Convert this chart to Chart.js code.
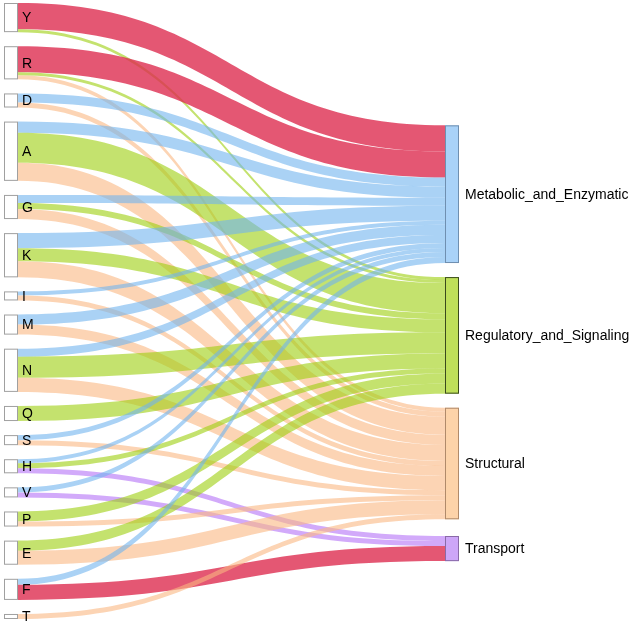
<!DOCTYPE html>
<html>
<head>
<meta charset="utf-8">
<script src="https://cdn.jsdelivr.net/npm/chart.js@4.4.1/dist/chart.umd.min.js"></script>
<style>
  html, body { margin: 0; padding: 0; background: #fff; }
  #wrap { width: 633px; height: 626px; }
</style>
</head>
<body>
<div id="wrap"><canvas id="sankey"></canvas></div>
<script>
// Left column (amino acids), top to bottom
const sources = ['Y', 'R', 'D', 'A', 'G', 'K', 'I', 'M', 'N', 'Q', 'S', 'H', 'V', 'P', 'E', 'F', 'T'];
// Right column (functional classes), top to bottom
const targets = ['Metabolic_and_Enzymatic', 'Regulatory_and_Signaling', 'Structural', 'Transport'];

// Flow from each source into each target (same order as `sources`)
const toMetabolic  = [26, 26, 9, 11, 8, 15, 4, 10, 8, 0, 5, 4, 5, 0, 0, 6, 0];
const toRegulatory = [3, 3, 0, 30, 6, 13, 0, 0, 21, 15, 0, 5, 0, 10, 10, 0, 0];
const toStructural = [0, 4, 5, 18, 10, 16, 5, 10, 14, 0, 5, 0, 0, 5, 14, 0, 5];
const toTransport  = [0, 0, 0, 0, 0, 0, 0, 0, 0, 0, 0, 5, 5, 0, 0, 15, 0];

// links drawn in the highlight colour
const highlighted = ['Y>Metabolic_and_Enzymatic', 'R>Metabolic_and_Enzymatic', 'F>Transport'];

const NODE_GAP = 14;   // vertical gap between nodes, in flow units
const NODE_W = 14;     // node width in px

const linkColors = ['rgba(113,180,238,0.6)', 'rgba(157,207,13,0.6)', 'rgba(250,183,130,0.6)', 'rgba(180,113,247,0.6)'];
const highlightColor = 'rgba(221,45,80,0.8)';
const targetFill = ['#a9d2f8', '#bfe05a', '#fdd3a9', '#cda6f8'];
const targetStroke = ['#6f8fb0', '#3a4a1c', '#b08a6a', '#8a6aa8'];

function buildLayout() {
  const flowRows = [toMetabolic, toRegulatory, toStructural, toTransport];
  const links = [];
  sources.forEach((s, i) => {
    flowRows.forEach((row, j) => {
      if (row[i] > 0) links.push({ s: i, t: j, value: row[i] });
    });
  });

  const left = sources.map(name => ({ name, value: 0 }));
  const right = targets.map(name => ({ name, value: 0 }));
  links.forEach(l => { left[l.s].value += l.value; right[l.t].value += l.value; });

  // stack the left column from the top
  let yy = 0;
  left.forEach(n => { n.y0 = yy; n.y1 = yy + n.value; yy = n.y1 + NODE_GAP; });
  const extent = yy - NODE_GAP;

  // link slots at the source, in target order
  const sOff = left.map(n => n.y0);
  links.forEach(l => { l.sy0 = sOff[l.s]; sOff[l.s] += l.value; l.sy1 = sOff[l.s]; });

  // right nodes sit at the weighted centre of what flows into them
  right.forEach((n, j) => {
    let w = 0;
    links.filter(l => l.t === j).forEach(l => { w += (l.sy0 + l.sy1) / 2 * l.value; });
    const c = w / n.value;
    n.y0 = c - n.value / 2;
    n.y1 = c + n.value / 2;
  });
  // resolve overlaps going down, then pull back up if past the bottom
  let floor = 0;
  right.forEach(n => {
    if (n.y0 < floor) { const d = floor - n.y0; n.y0 += d; n.y1 += d; }
    floor = n.y1 + NODE_GAP;
  });
  let ceil = extent;
  for (let k = right.length - 1; k >= 0; k--) {
    const n = right[k];
    if (n.y1 > ceil) { const d = n.y1 - ceil; n.y0 -= d; n.y1 -= d; }
    ceil = n.y0 - NODE_GAP;
  }

  // link slots at the target, in source order
  const tOff = right.map(n => n.y0);
  links.forEach(l => { l.ty0 = tOff[l.t]; tOff[l.t] += l.value; l.ty1 = tOff[l.t]; });

  return { left, right, links, extent };
}

const layout = buildLayout();

const sankeyPlugin = {
  id: 'sankey',
  afterDraw(chart) {
    const { ctx, scales: { x, y } } = chart;
    const xl = x.getPixelForValue(0);
    const xr = x.getPixelForValue(1);
    const xs = xl + NODE_W;
    const xt = xr - NODE_W;
    const xm = (xs + xt) / 2;

    ctx.save();
    // links
    layout.links.forEach(l => {
      const s0 = y.getPixelForValue(l.sy0), s1 = y.getPixelForValue(l.sy1);
      const t0 = y.getPixelForValue(l.ty0), t1 = y.getPixelForValue(l.ty1);
      const key = sources[l.s] + '>' + targets[l.t];
      ctx.fillStyle = highlighted.includes(key) ? highlightColor : linkColors[l.t];
      ctx.beginPath();
      ctx.moveTo(xs, s0);
      ctx.bezierCurveTo(xm, s0, xm, t0, xt, t0);
      ctx.lineTo(xt, t1);
      ctx.bezierCurveTo(xm, t1, xm, s1, xs, s1);
      ctx.closePath();
      ctx.fill();
    });

    ctx.font = '14px "Liberation Sans", Arial, sans-serif';
    ctx.textBaseline = 'middle';
    ctx.textAlign = 'left';
    ctx.lineWidth = 1;

    // left nodes
    layout.left.forEach(n => {
      const top = y.getPixelForValue(n.y0), bot = y.getPixelForValue(n.y1);
      ctx.fillStyle = '#ffffff';
      ctx.strokeStyle = '#a0a0a0';
      ctx.fillRect(xl, top, NODE_W, bot - top);
      ctx.strokeRect(xl + 0.5, top + 0.5, NODE_W - 1, bot - top - 1);
      ctx.fillStyle = '#000';
      ctx.fillText(n.name, xs + 4, (top + bot) / 2 + 1);
    });

    // right nodes
    layout.right.forEach((n, j) => {
      const top = y.getPixelForValue(n.y0), bot = y.getPixelForValue(n.y1);
      ctx.fillStyle = targetFill[j];
      ctx.strokeStyle = targetStroke[j];
      ctx.fillRect(xt, top, NODE_W, bot - top);
      ctx.strokeRect(xt + 0.5, top + 0.5, NODE_W - 1, bot - top - 1);
      ctx.fillStyle = '#000';
      ctx.fillText(n.name, xr + 6, (top + bot) / 2 + 1);
    });
    ctx.restore();
  }
};

new Chart(document.getElementById('sankey'), {
  type: 'scatter',
  data: { datasets: [] },
  options: {
    responsive: true,
    maintainAspectRatio: false,
    animation: false,
    events: [],
    layout: { padding: { left: 4, right: 174, top: 3, bottom: 7 } },
    scales: {
      x: { type: 'linear', min: 0, max: 1, display: false },
      y: { type: 'linear', min: 0, max: layout.extent, reverse: true, display: false }
    },
    plugins: { legend: { display: false }, tooltip: { enabled: false } }
  },
  plugins: [sankeyPlugin]
});
</script>
</body>
</html>
